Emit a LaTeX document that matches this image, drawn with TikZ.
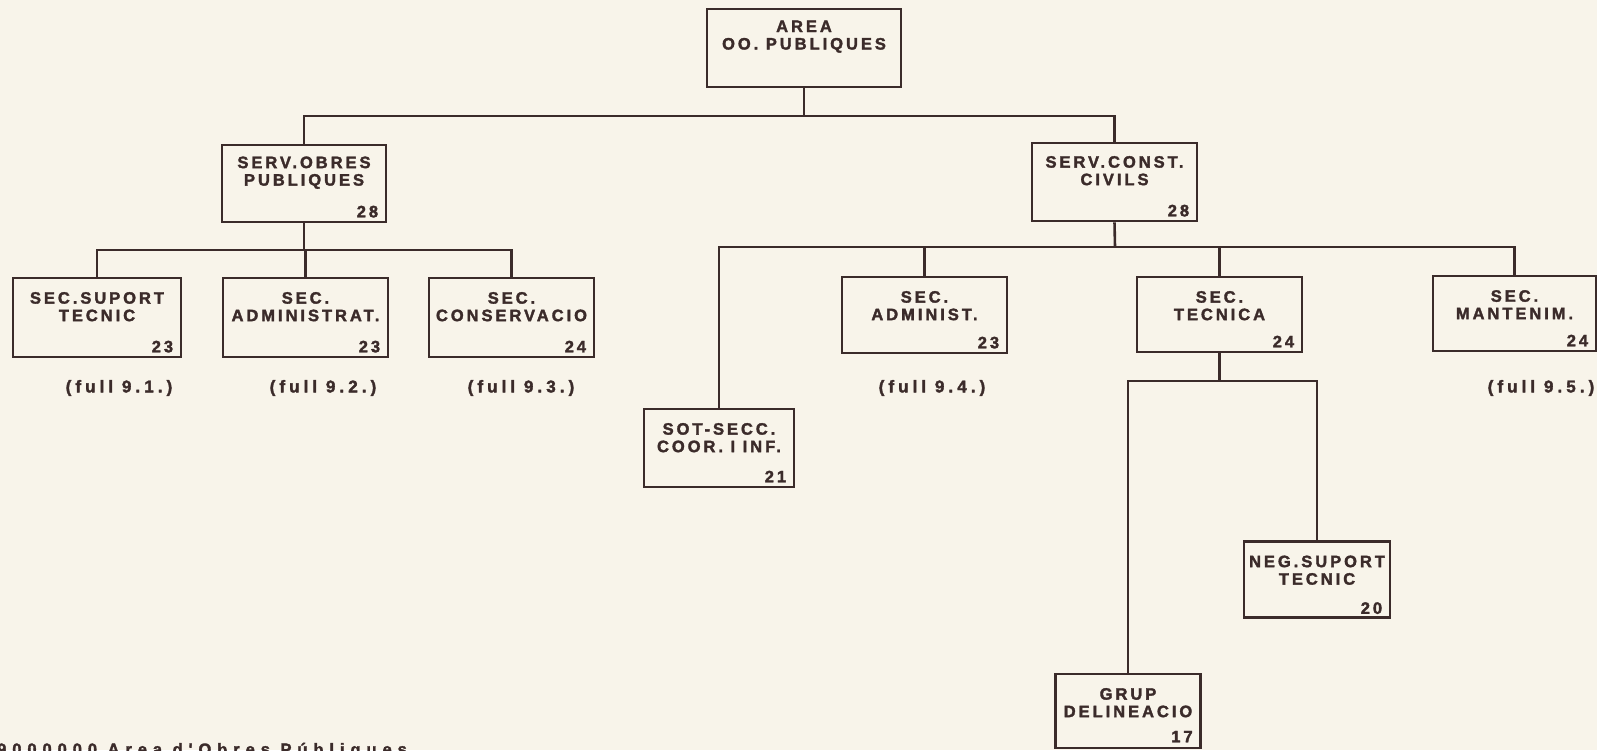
\documentclass[tikz,border=0pt]{standalone}
\usepackage{fontspec}
\newfontfamily\plotfont{Liberation Sans}[LetterSpace=18, BoldFeatures={FakeBold=2}]
\newfontfamily\labfont{Liberation Sans}[LetterSpace=24, BoldFeatures={FakeBold=2}]
\newfontfamily\footfont{Liberation Sans}[LetterSpace=36, BoldFeatures={FakeBold=2}]
\definecolor{paper}{HTML}{F8F4EA}
\definecolor{ink}{HTML}{3B2B2A}
\tikzset{
  box/.style={draw=ink, line width=2.6pt, rectangle, inner sep=0pt},
  title/.style={text=ink, align=center, inner sep=0pt, font=\plotfont\bfseries\fontsize{16.5}{17.5}\selectfont},
  num/.style={text=ink, inner sep=0pt, anchor=base east, font=\plotfont\bfseries\fontsize{16.5}{17}\selectfont},
  lab/.style={text=ink, inner sep=0pt, font=\labfont\bfseries\fontsize{17}{17}\selectfont},
  foottext/.style={text=ink, inner sep=0pt, font=\footfont\bfseries\fontsize{16.5}{17}\selectfont},
  conn/.style={draw=ink, line width=2.6pt}
}
\begin{document}
\begin{tikzpicture}[x=1pt,y=-1pt]
\useasboundingbox (0,0) rectangle (1597,750);
\fill[paper] (0,0) rectangle (1597,750);
\clip (0,0) rectangle (1597,750);

% boxes
\node[box, minimum width=194pt, minimum height=78pt] (area) at (804,48) {};
\node[box, minimum width=164pt, minimum height=77pt] (servob) at (304,183.5) {};
\node[box, minimum width=165pt, minimum height=78pt] (servcc) at (1114.5,182) {};
\node[box, minimum width=168pt, minimum height=79pt] (secsup) at (97,317.5) {};
\node[box, minimum width=165pt, minimum height=79pt] (secadm) at (305.5,317.5) {};
\node[box, minimum width=165pt, minimum height=79pt] (seccons) at (511.5,317.5) {};
\node[box, minimum width=165pt, minimum height=76pt] (secadmi) at (924.5,315) {};
\node[box, minimum width=165pt, minimum height=75pt] (sectec) at (1219.5,314.5) {};
\node[box, minimum width=163pt, minimum height=75pt] (secmant) at (1514.5,313.5) {};
\node[box, minimum width=150pt, minimum height=78pt] (sotsecc) at (719,448) {};
\node[box, minimum width=146pt, minimum height=76pt] (negsup) at (1317,579.5) {};
\node[box, minimum width=145pt, minimum height=74pt] (grup) at (1128,711) {};

% titles
\node[title] (t-area) at ([yshift=-29pt]area.north) {AREA\\OO. PUBLIQUES};
\node[title] (t-servob) at ([yshift=-29pt]servob.north) {SERV.OBRES\\PUBLIQUES};
\node[title] (t-servcc) at ([yshift=-29pt]servcc.north) {SERV.CONST.\\CIVILS};
\node[title] (t-secsup) at ([yshift=-30pt]secsup.north) {SEC.SUPORT\\TECNIC};
\node[title] (t-secadm) at ([yshift=-30pt]secadm.north) {SEC.\\ADMINISTRAT.};
\node[title] (t-seccons) at ([yshift=-30pt]seccons.north) {SEC.\\CONSERVACIO};
\node[title] (t-secadmi) at ([yshift=-30pt]secadmi.north) {SEC.\\ADMINIST.};
\node[title] (t-sectec) at ([yshift=-30pt]sectec.north) {SEC.\\TECNICA};
\node[title] (t-secmant) at ([yshift=-30pt]secmant.north) {SEC.\\MANTENIM.};
\node[title] (t-sotsecc) at ([yshift=-30pt]sotsecc.north) {SOT-SECC.\\COOR. I INF.};
\node[title] (t-negsup) at ([yshift=-30pt]negsup.north) {NEG.SUPORT\\TECNIC};
\node[title] (t-grup) at ([yshift=-30pt]grup.north) {GRUP\\DELINEACIO};

% numbers
\node[num] (n-servob) at ([xshift=-9pt,yshift=6pt]servob.south east) {28};
\node[num] (n-servcc) at ([xshift=-9pt,yshift=6pt]servcc.south east) {28};
\node[num] (n-secsup) at ([xshift=-9pt,yshift=6pt]secsup.south east) {23};
\node[num] (n-secadm) at ([xshift=-9pt,yshift=6pt]secadm.south east) {23};
\node[num] (n-seccons) at ([xshift=-9pt,yshift=6pt]seccons.south east) {24};
\node[num] (n-secadmi) at ([xshift=-9pt,yshift=6pt]secadmi.south east) {23};
\node[num] (n-sectec) at ([xshift=-9pt,yshift=6pt]sectec.south east) {24};
\node[num] (n-secmant) at ([xshift=-9pt,yshift=6pt]secmant.south east) {24};
\node[num] (n-sotsecc) at ([xshift=-9pt,yshift=6pt]sotsecc.south east) {21};
\node[num] (n-negsup) at ([xshift=-9pt,yshift=5pt]negsup.south east) {20};
\node[num] (n-grup) at ([xshift=-9pt,yshift=7pt]grup.south east) {17};

% labels
\node[lab] (l1) at (119,388) {(full 9.1.)};
\node[lab] (l2) at (323,388) {(full 9.2.)};
\node[lab] (l3) at (521,388) {(full 9.3.)};
\node[lab] (l4) at (932,388) {(full 9.4.)};
\node[lab] (l5) at (1541,388) {(full 9.5.)};

% connectors
\coordinate (b1) at (804,116);
\coordinate (b2) at (304,250);
\coordinate (b3) at (1115,247);
\coordinate (b4) at (1219.5,381);
\draw[conn] (area.south) -- (b1);
\draw[conn] (servob.north) |- (b1) -| (servcc.north);
\draw[conn] (servob.south) -- (b2);
\draw[conn] (secsup.north) |- (b2) -| (seccons.north);
\draw[conn] (secadm.north) -- (secadm.north |- b2);
\draw[conn] (servcc.south) -- (b3);
\draw[conn] (sotsecc.north) |- (b3) -| (secmant.north);
\draw[conn] (secadmi.north) -- (secadmi.north |- b3);
\draw[conn] (sectec.north) -- (sectec.north |- b3);
\draw[conn] (sectec.south) -- (b4);
\draw[conn] (grup.north) |- (b4) -| (negsup.north);

% footer
\node[foottext, anchor=base west] (foot) at (-3,755) {9000000 Area d'Obres Públiques};
\end{tikzpicture}
\end{document}
